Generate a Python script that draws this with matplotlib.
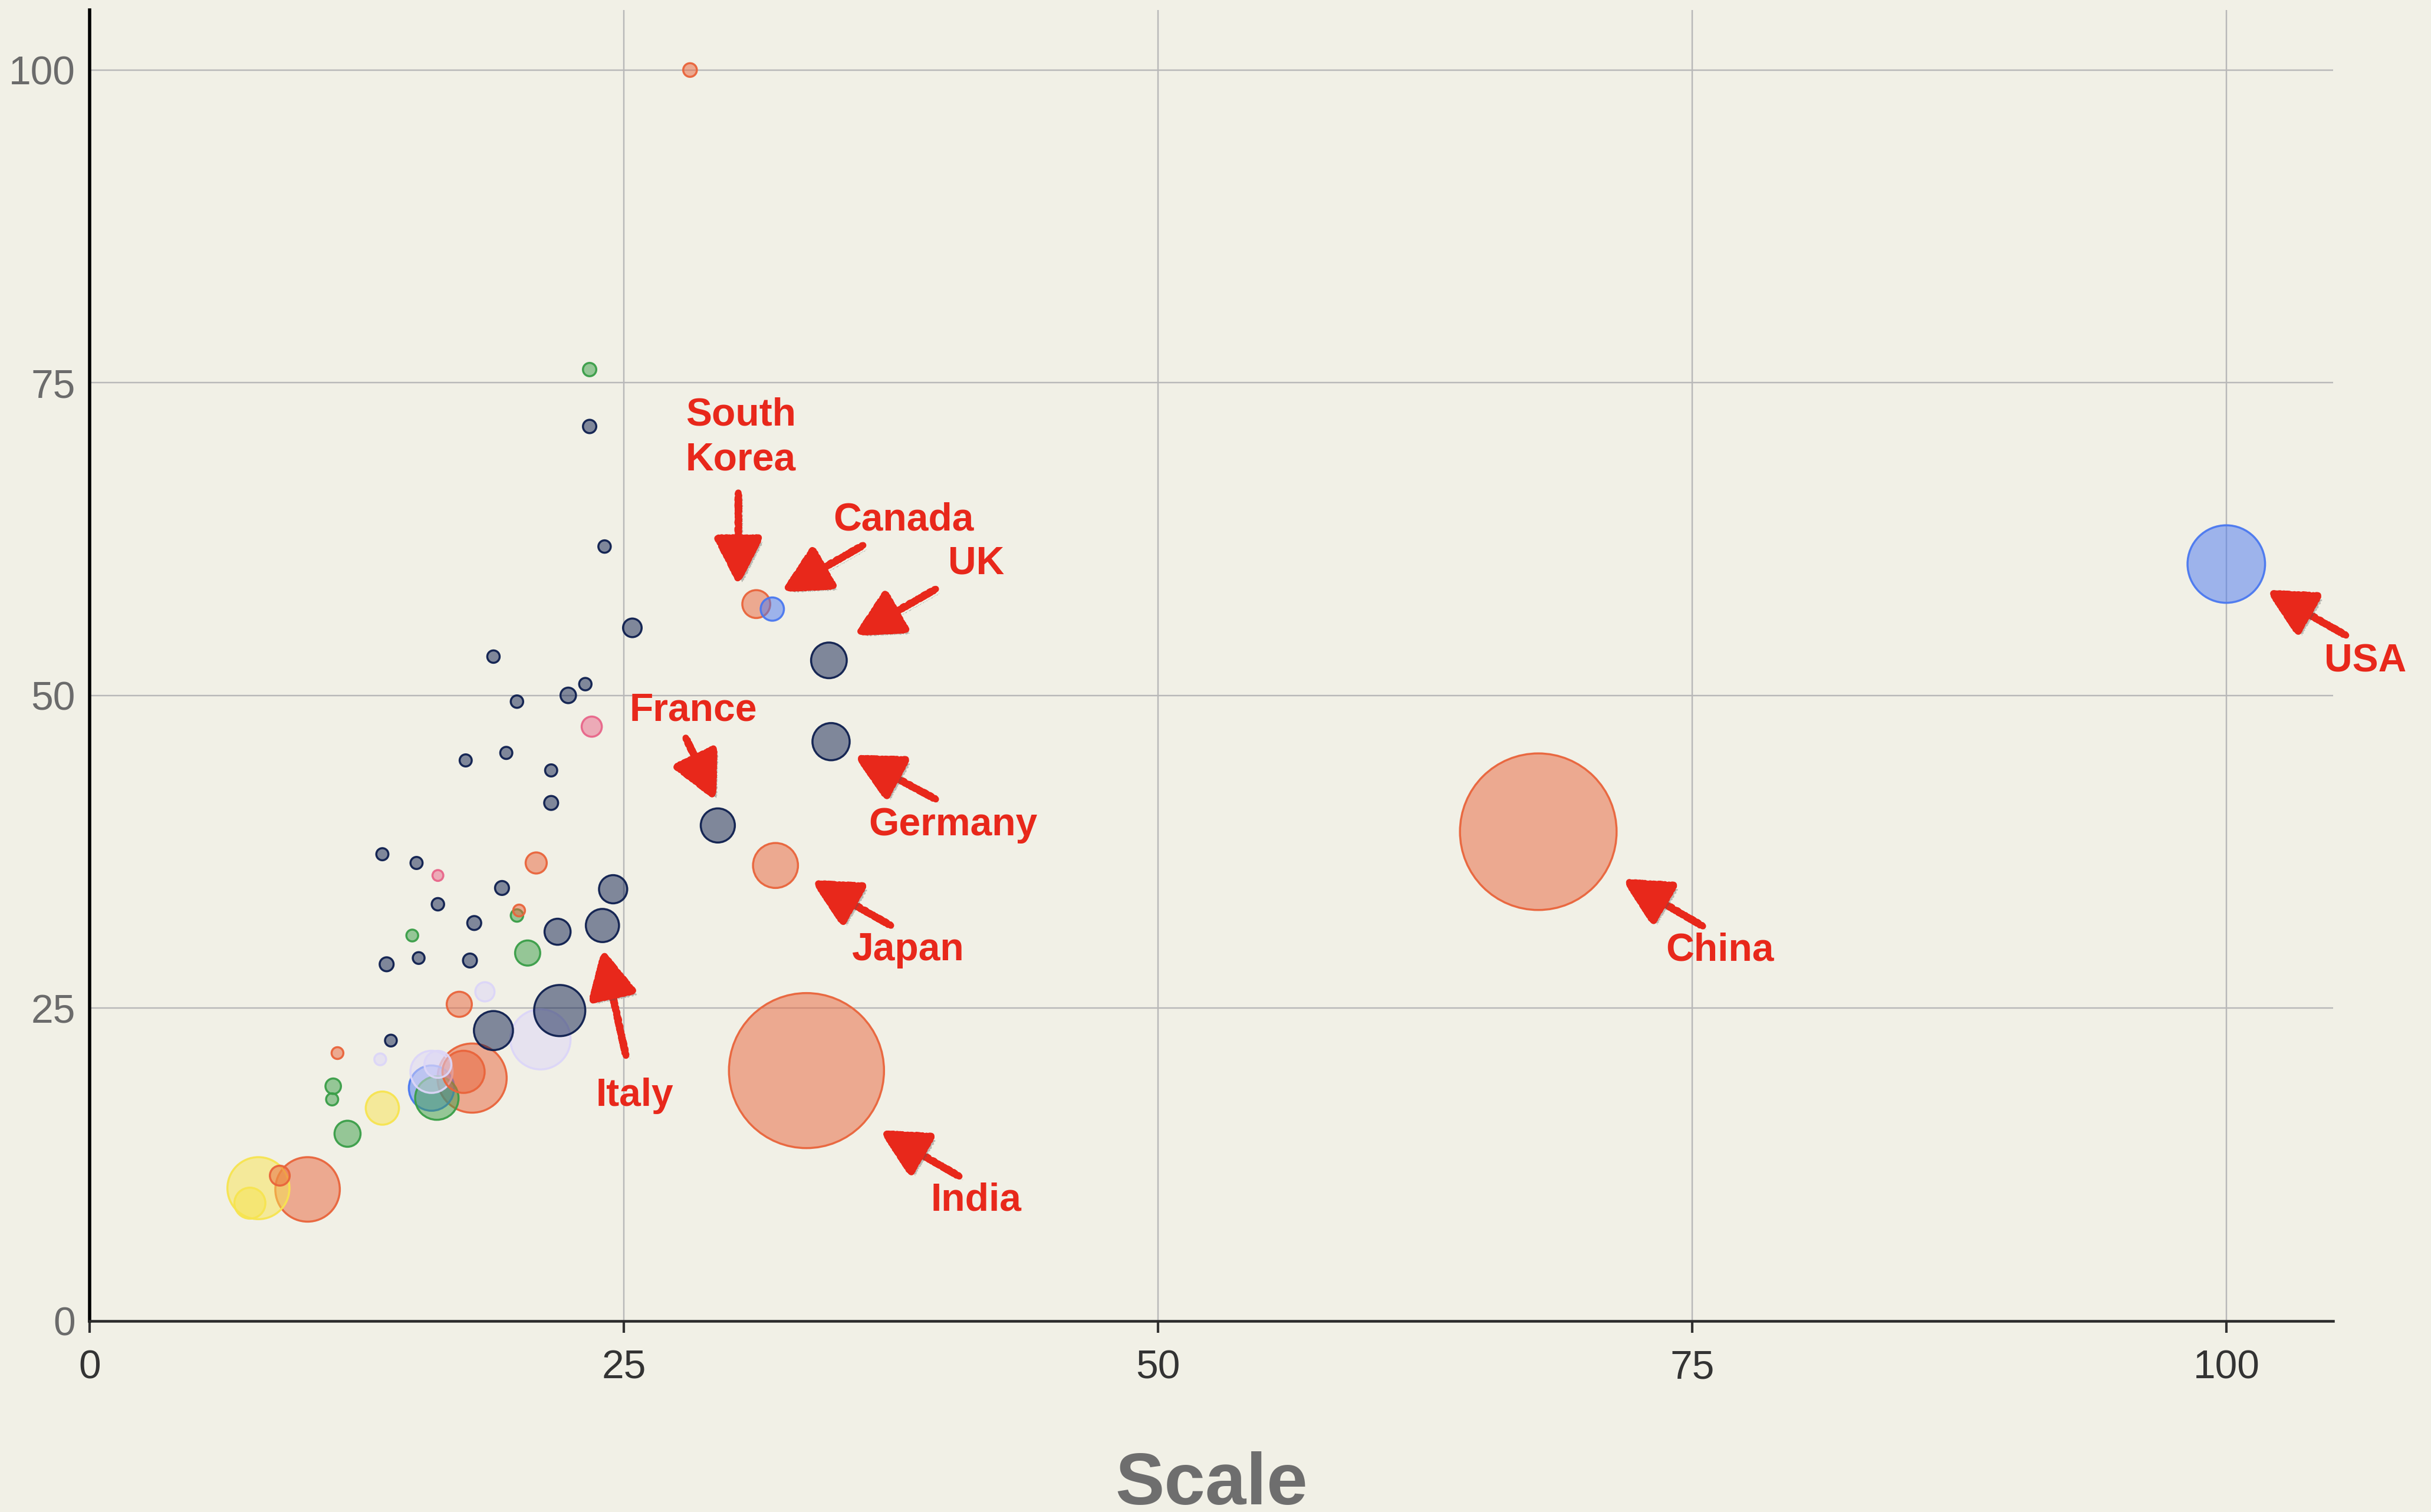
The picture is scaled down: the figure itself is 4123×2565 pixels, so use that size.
import matplotlib
matplotlib.use("Agg")
import matplotlib.pyplot as plt
import matplotlib.patheffects as pe
import numpy as np

# ======================================
# data
# ======================================
bubble_x = [100.0, 67.8, 33.55, 32.1, 34.7, 34.6, 31.2, 31.95, 29.4, 24.0, 28.1,
            23.4, 23.4, 24.1, 25.4, 18.9, 23.2, 22.4, 20.0, 23.5,
            17.6, 19.5, 21.6, 21.6, 13.7, 15.3, 16.3, 20.9, 19.3, 16.3,
            24.5, 20.1, 20.0, 18.0, 21.9, 15.1, 20.5, 13.9, 15.4, 17.8,
            18.5, 17.3, 18.9, 22.0, 21.1, 14.1, 11.6, 13.6, 16.0, 16.3,
            16.0, 16.25, 17.9, 17.5, 11.4, 11.35, 13.7, 12.07, 7.9, 7.5,
            8.9, 10.2]
bubble_y = [60.5, 39.1, 20.0, 36.4, 46.3, 52.8, 57.3, 56.9, 39.6, 31.6, 100.0,
            76.05, 71.5, 61.9, 55.4, 53.1, 50.9, 50.0, 49.5, 47.5,
            44.8, 45.4, 44.0, 41.4, 37.3, 36.6, 35.6, 36.6, 34.6, 33.3,
            34.5, 32.8, 32.4, 31.8, 31.1, 30.8, 29.4, 28.5, 29.0, 28.8,
            26.3, 25.3, 23.2, 24.8, 22.5, 22.4, 21.4, 20.9, 19.9, 20.5,
            18.6, 17.8, 19.4, 19.9, 18.75, 17.7, 17.0, 14.95, 10.6, 9.4,
            11.6, 10.5]
bubble_r = [25, 50.5, 50, 14.5, 12, 11.5, 9, 7.5, 11, 10.7, 4.4,
            4.3, 4.3, 4, 6, 4, 4, 5, 4, 6.5,
            3.9, 3.9, 3.9, 4.5, 3.9, 3.9, 3.5, 6.8, 4.5, 4,
            9.1, 3.8, 4, 4.5, 8.4, 3.8, 8.1, 4.5, 3.8, 4.5,
            6.2, 8.1, 12.6, 16.5, 19.4, 3.8, 3.8, 3.8, 13.6, 8.7,
            14.6, 14, 22.3, 13.6, 5, 3.9, 10.7, 8.4, 20, 10,
            6.4, 20.8]
bubble_group = ["blue", "orange", "orange", "orange", "navy", "navy", "orange", "blue", "navy", "navy", "orange",
                "green", "navy", "navy", "navy", "navy", "navy", "navy", "navy", "pink",
                "navy", "navy", "navy", "navy", "navy", "navy", "pink", "orange", "navy", "navy",
                "navy", "orange", "green", "navy", "navy", "green", "green", "navy", "navy", "navy",
                "lavender", "orange", "navy", "navy", "lavender", "navy", "orange", "lavender", "lavender", "lavender",
                "blue", "green", "orange", "orange", "green", "green", "yellow", "green", "yellow", "yellow",
                "orange", "orange"]

labels = ["South\nKorea", "Canada", "UK", "France", "Germany", "Japan", "Italy", "India", "China", "USA"]
label_xy = [(27.9, 70.6), (38.1, 64.0), (41.5, 60.5), (28.25, 48.8), (40.4, 39.6),
            (38.3, 29.6), (25.5, 18.0), (41.5, 9.6), (76.3, 29.6), (106.5, 52.7)]
arrow_from = [(30.36, 66.2), (36.2, 62.0), (39.6, 58.5), (27.9, 46.6), (39.6, 41.7),
              (37.5, 31.6), (25.1, 21.2), (40.7, 11.55), (75.5, 31.55), (105.6, 54.8)]
arrow_to = [(30.36, 58.8), (32.4, 58.3), (35.8, 54.8), (29.3, 41.6), (35.8, 45.2),
            (33.8, 35.2), (24.0, 29.7), (37.0, 15.2), (71.75, 35.3), (101.9, 58.4)]

x_ticks = [0, 25, 50, 75, 100]
y_ticks = [0, 25, 50, 75, 100]

# ======================================
# style
# ======================================
bg = "#f1f0e6"
red = "#e8281b"
palette = {
    "navy": "#0e1f4f",
    "orange": "#e9643b",
    "blue": "#4a78f0",
    "green": "#3a9e48",
    "yellow": "#f7e450",
    "pink": "#e8668a",
    "lavender": "#dcd6f8",
}

plt.rcParams["font.family"] = ["Liberation Sans", "DejaVu Sans"]

fig = plt.figure(figsize=(4123 / 250, 2565 / 250), dpi=250, facecolor=bg)
ax = fig.add_axes([0.03687, 0.1265, 0.92287, 0.8669])
ax.set_facecolor(bg)

# big bubbles first so the small ones stay visible
order = np.argsort(-np.array(bubble_r))
bx = np.array(bubble_x)[order]
by = np.array(bubble_y)[order]
br = np.array(bubble_r)[order]
bg_groups = np.array(bubble_group)[order]

# radius in reference px -> scatter area in pt^2
px_to_pt = 2.63 * 72 / 250
sizes = (2 * br * px_to_pt) ** 2
face = [matplotlib.colors.to_rgba(palette[g], 0.5) for g in bg_groups]
edge = [matplotlib.colors.to_rgba(palette[g], 0.95) for g in bg_groups]

ax.scatter(bx, by, s=sizes, c=face, edgecolors=edge, linewidths=1.0, zorder=3)

# ======================================
# axes
# ======================================
ax.set_xlim(0, 105)
ax.set_ylim(0, 104.8)
ax.set_xticks(x_ticks)
ax.set_yticks(y_ticks)
ax.grid(True, color="#b8b8b8", lw=0.7)
ax.set_axisbelow(True)

for s in ["top", "right"]:
    ax.spines[s].set_visible(False)
ax.spines["left"].set_color("black")
ax.spines["left"].set_linewidth(1.6)
ax.spines["bottom"].set_color("#2b2b2b")
ax.spines["bottom"].set_linewidth(1.3)

ax.tick_params(axis="x", length=5.8, width=1.2, color="#333333", pad=8,
               labelsize=19.5, labelcolor="#333333")
ax.tick_params(axis="y", length=0, pad=7, labelsize=19.5, labelcolor="#6b6b6b")

# the reference crops this label at the bottom edge as well
fig.text(0.4983, 0.005, "Scale", ha="center", va="baseline",
         fontsize=36, fontweight="bold", color="#6e6e6e")

# ======================================
# red annotations
# ======================================
shadow = [pe.SimplePatchShadow(offset=(2, -2), alpha=0.35, shadow_rgbFace="#555555"), pe.Normal()]

for lab, (tx, ty), a0, a1 in zip(labels, label_xy, arrow_from, arrow_to):
    ha = "left" if "\n" in lab else "center"
    ax.text(tx, ty, lab, ha=ha, va="center", fontsize=19, fontweight="bold",
            color=red, linespacing=1.3, zorder=6, clip_on=False)
    arr = ax.annotate("", xy=a1, xytext=a0, annotation_clip=False,
                      arrowprops=dict(arrowstyle="-|>,head_length=0.65,head_width=0.33",
                                      mutation_scale=30, lw=3.2, color=red,
                                      shrinkA=0, shrinkB=0, path_effects=shadow),
                      zorder=6)
    arr.arrow_patch.set_sketch_params(scale=1.2, length=6, randomness=4)

fig.savefig("out.png", dpi=250, facecolor=bg)
